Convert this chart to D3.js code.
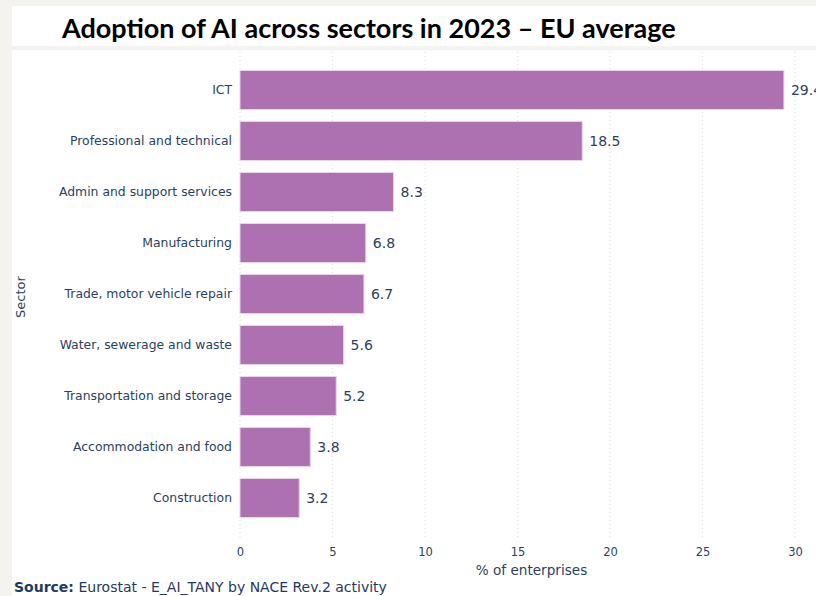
<!DOCTYPE html>
<html>
<head>
<meta charset="utf-8">
<script src="https://cdn.jsdelivr.net/npm/d3@7"></script>
<style>
  body { margin: 0; background: #f4f3ef; }
  svg { display: block; }
</style>
</head>
<body>
<svg id="chart" width="816" height="596"></svg>
<script>
// Data
const sectors = [
    'ICT',
    'Professional and technical',
    'Admin and support services',
    'Manufacturing',
    'Trade, motor vehicle repair',
    'Water, sewerage and waste',
    'Transportation and storage',
    'Accommodation and food',
    'Construction'
];
const adoption = [29.4, 18.5, 8.3, 6.8, 6.7, 5.6, 5.2, 3.8, 3.2];
const xTicks = [0, 5, 10, 15, 20, 25, 30];

const data = sectors.map((s, i) => ({ sector: s, value: adoption[i] }));

const svg = d3.select('#chart');
const tickColor = '#2a3f5f';
const font = "'DejaVu Sans', Verdana, sans-serif";

// Panels
svg.append('rect').attr('x', 12).attr('y', 6).attr('width', 804).attr('height', 40).attr('fill', '#fff');
svg.append('rect').attr('x', 12).attr('y', 50).attr('width', 804).attr('height', 546).attr('fill', '#fff');

// Title
const title = svg.append('text')
    .attr('x', 62)
    .attr('y', 38)
    .attr('font-family', 'Lato, sans-serif')
    .attr('font-weight', 'bold')
    .attr('font-size', 26)
    .attr('fill', '#000')
    .text('Adoption of AI across sectors in 2023 – EU average');
const tw = title.node().getComputedTextLength();
title.attr('font-size', 26 * 614 / tw);

// Scales
const x = d3.scaleLinear().domain([0, 30]).range([240, 795]);
const y = d3.scaleBand().domain(sectors).range([64.5, 523.5]).paddingInner(0.235).paddingOuter(0.1175);

// Gridlines
svg.append('g')
    .selectAll('line')
    .data(xTicks)
    .join('line')
    .attr('x1', d => x(d))
    .attr('x2', d => x(d))
    .attr('y1', 52)
    .attr('y2', 540)
    .attr('stroke', '#dcdcdc')
    .attr('stroke-width', 1)
    .attr('stroke-dasharray', '1,3');

// Bars
svg.append('g')
    .selectAll('rect')
    .data(data)
    .join('rect')
    .attr('x', x(0))
    .attr('y', d => y(d.sector))
    .attr('width', d => x(d.value) - x(0))
    .attr('height', y.bandwidth())
    .attr('fill', '#ad70b0')
    .attr('stroke', '#e8d5e9')
    .attr('stroke-width', 1);

// Value labels
svg.append('g')
    .selectAll('text')
    .data(data)
    .join('text')
    .attr('x', d => x(d.value) + 7)
    .attr('y', d => y(d.sector) + y.bandwidth() / 2)
    .attr('dy', '0.35em')
    .attr('font-family', font)
    .attr('font-size', 14)
    .attr('fill', tickColor)
    .text(d => d.value.toFixed(1));

// Y axis labels
const yAxis = svg.append('g')
    .attr('transform', `translate(${x(0)},0)`)
    .call(d3.axisLeft(y).tickSize(0).tickPadding(8));
yAxis.select('.domain').remove();
yAxis.selectAll('text')
    .attr('font-family', font)
    .attr('font-size', 12.4)
    .attr('fill', tickColor);

// X axis labels
const xAxis = svg.append('g')
    .attr('transform', 'translate(0,543)')
    .call(d3.axisBottom(x).tickValues(xTicks).tickSize(0).tickPadding(5));
xAxis.select('.domain').remove();
xAxis.selectAll('text')
    .attr('font-family', font)
    .attr('font-size', 11.5)
    .attr('fill', tickColor);

// Axis titles
svg.append('text')
    .attr('x', (x(0) + x(30)) / 2 + 14)
    .attr('y', 575)
    .attr('text-anchor', 'middle')
    .attr('font-family', font)
    .attr('font-size', 13.6)
    .attr('fill', tickColor)
    .text('% of enterprises');

svg.append('text')
    .attr('transform', 'translate(25,297) rotate(-90)')
    .attr('text-anchor', 'middle')
    .attr('font-family', font)
    .attr('font-size', 13)
    .attr('fill', tickColor)
    .text('Sector');

// Source
const src = svg.append('text')
    .attr('x', 14)
    .attr('y', 592)
    .attr('font-family', font)
    .attr('font-size', 14)
    .attr('fill', '#1f3864');
src.append('tspan').attr('font-weight', 'bold').text('Source:');
src.append('tspan').text(' Eurostat - E_AI_TANY by NACE Rev.2 activity');
</script>
</body>
</html>
